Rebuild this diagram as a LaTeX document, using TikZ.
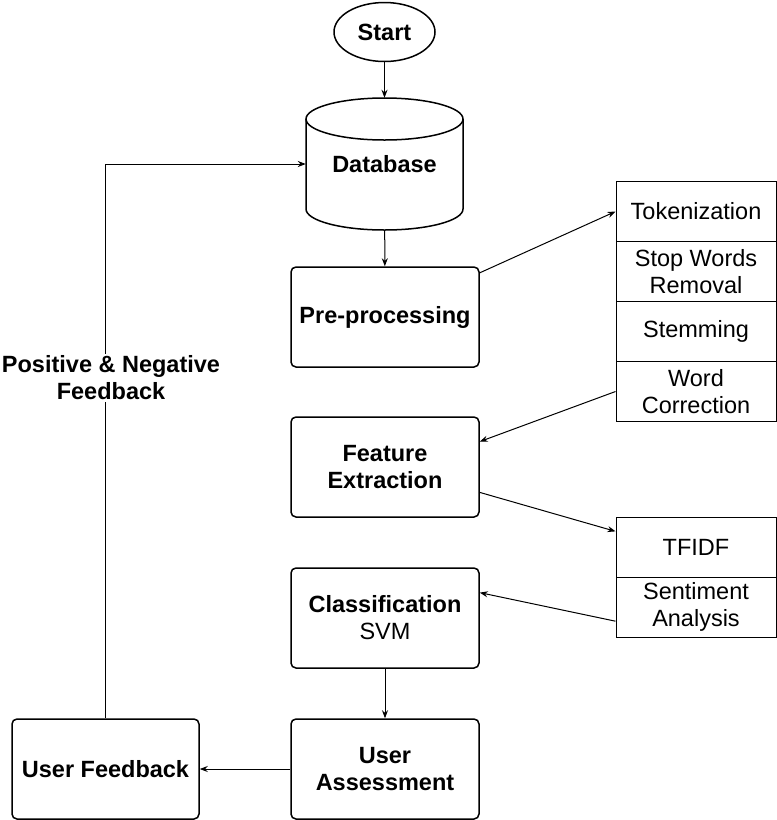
\documentclass[tikz,border=0pt]{standalone}
\usepackage{fontspec}
\setmainfont{Liberation Sans}
\usetikzlibrary{arrows.meta,shapes.geometric}

\begin{document}
\begin{tikzpicture}[x=1pt,y=-1pt]
\tikzstyle{every node}=[inner sep=0pt, align=center, font=\fontsize{23.5}{27}\selectfont]
\tikzstyle{proc}=[draw, line width=1.5pt, rounded corners=5pt, minimum width=188pt, minimum height=100pt, font=\fontsize{23.5}{27}\selectfont\bfseries]
\tikzstyle{cell}=[draw, line width=1pt, minimum width=160pt, minimum height=60pt]
\tikzstyle{link}=[line width=1pt, -{Stealth[length=8pt,width=6pt]}]
\useasboundingbox (0,0) rectangle (777,820);
% left column
\draw (384.5,32) node (start) [ellipse, draw, line width=1.5pt, minimum width=101pt, minimum height=59pt, font=\fontsize{23.5}{27}\selectfont\bfseries] {Start};
\draw[line width=1.5pt] (306,119) -- (306,209) arc[start angle=180, end angle=0, x radius=78.5, y radius=21] -- (463,119);
\draw[line width=1.5pt] (384.5,119) ellipse (78.5 and 21);
\draw (384.5,164) node (db) [minimum width=157pt, minimum height=132pt, font=\fontsize{23.5}{27}\selectfont\bfseries] {Database};
\draw (385,317) node (pre) [proc] {Pre-processing};
\draw (385,467) node (fe) [proc] {Feature\\Extraction};
\draw (385,618) node (cls) [proc] {Classification\\\mdseries SVM};
\draw (385,769) node (ua) [proc] {User\\Assessment};
\draw (105.5,769) node (uf) [proc, minimum width=187pt] {User Feedback};
% right stacks
\draw (696,211.5) node (tok) [cell] {Tokenization};
\draw (696,271.5) node (sw) [cell] {Stop Words\\Removal};
\draw (696,331.5) node (stem) [cell] {Stemming};
\draw (696,391.5) node (wc) [cell] {Word\\Correction};
\draw (696,547) node (tfidf) [cell] {TFIDF};
\draw (696,607) node (sa) [cell] {Sentiment\\Analysis};
% connectors
\draw[link] (start) -- (db);
\draw[link] (db) -- (pre);
\draw[link] (pre.25) -- (tok.west);
\draw[link] (wc.west) -- (fe.15);
\draw[link] (fe.-15) -- (tfidf.169);
\draw[link] (sa.190) -- (cls.15);
\draw[link] (cls) -- (ua);
\draw[link] (ua) -- (uf);
\draw[link] (uf.north) |- (db.west);
\draw (111,378) node (fb) [fill=white, inner sep=2pt, font=\fontsize{23.5}{27}\selectfont\bfseries] {Positive \& Negative\\Feedback};
\end{tikzpicture}
\end{document}
